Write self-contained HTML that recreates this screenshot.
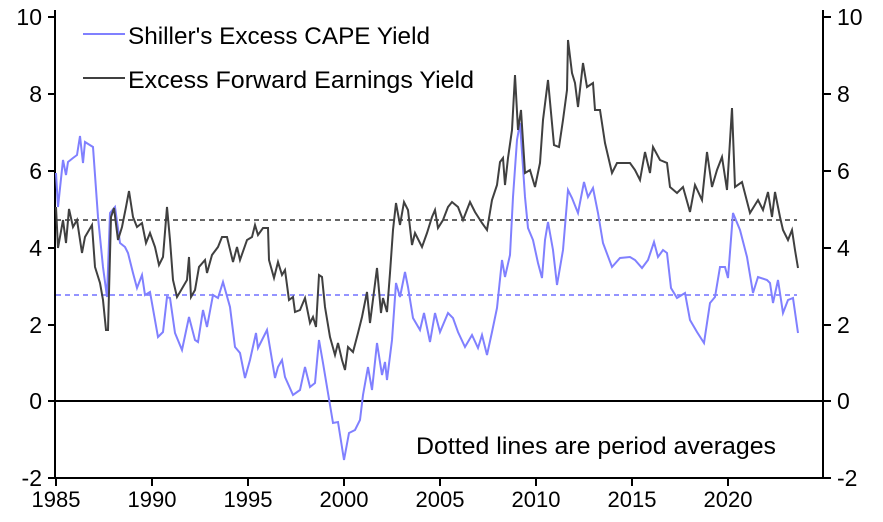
<!DOCTYPE html>
<html><head><meta charset="utf-8"><style>body{margin:0;background:#fff}svg{display:block}text{font-family:"Liberation Sans",Arial,sans-serif;fill:#000}</style></head><body>
<svg width="883" height="522" viewBox="0 0 883 522" xmlns="http://www.w3.org/2000/svg">
<g stroke="#000" stroke-width="2" fill="none">
<line x1="55" y1="10" x2="55" y2="479"/>
<line x1="823" y1="10" x2="823" y2="479"/>
<line x1="55" y1="478" x2="823" y2="478"/>
<line x1="55" y1="401" x2="823" y2="401"/>
<path d="M48 17H55M48 94H55M48 171H55M48 248H55M48 325H55M48 401H55M48 478H55"/>
<path d="M823 17H831M823 94H831M823 171H831M823 248H831M823 325H831M823 401H831M823 478H831"/>
<path d="M56 478V486M152 478V486M248 478V486M344 478V486M440 478V486M536 478V486M632 478V486M728 478V486"/>
</g>
<g font-size="23" text-anchor="end">
<text x="42" y="25">10</text><text x="42" y="102">8</text><text x="42" y="179">6</text><text x="42" y="256">4</text><text x="42" y="333">2</text><text x="42" y="409">0</text><text x="42" y="486">-2</text>
</g>
<g font-size="23">
<text x="837" y="25">10</text><text x="837" y="102">8</text><text x="837" y="179">6</text><text x="837" y="256">4</text><text x="837" y="333">2</text><text x="837" y="409">0</text><text x="837" y="486">-2</text>
</g>
<g font-size="22" text-anchor="middle">
<text x="56" y="507">1985</text><text x="152" y="507">1990</text><text x="248" y="507">1995</text><text x="344" y="507">2000</text><text x="440" y="507">2005</text><text x="536" y="507">2010</text><text x="632" y="507">2015</text><text x="728" y="507">2020</text>
</g>
<line x1="56" y1="220" x2="797" y2="220" stroke="#333" stroke-width="1.5" stroke-dasharray="5,4"/>
<line x1="56" y1="295" x2="797" y2="295" stroke="#7070ff" stroke-width="1.5" stroke-dasharray="5,4"/>
<polyline fill="none" stroke="#8080ff" stroke-width="2" points="56,173 58,207 63,160 66,175 68,162 73,158 77,155 80,136 83,163 85,142 93,147 98,217 103,267 107,297 110,213 115,207 120,243 125,247 128,253 133,273 137,288 142,275 145,295 150,292 158,337 163,332 167,297 170,298 175,333 182,350 189,317 195,340 198,342 203,310 207,327 213,295 218,298 223,282 230,307 235,347 240,353 245,378 250,360 256,333 258,348 267,330 275,378 278,367 282,360 285,377 293,395 300,390 305,367 310,387 315,383 319,340 323,363 328,393 333,423 338,422 344,460 349,433 355,430 360,420 363,395 368,367 372,390 377,343 382,375 385,362 387,380 392,340 396,283 400,297 405,272 408,287 413,318 420,330 424,313 430,342 435,313 440,332 448,313 453,318 458,332 465,347 472,335 478,348 482,335 487,355 492,332 497,308 502,260 505,277 510,255 513,197 517,140 520,123 525,197 528,228 533,240 538,263 542,278 545,240 548,222 553,250 557,285 563,250 568,190 572,198 578,213 584,182 588,197 593,188 598,213 603,243 612,267 620,258 630,257 635,260 642,268 648,260 654,242 658,257 663,250 667,253 671,288 677,298 685,293 690,320 697,332 704,343 710,303 715,297 720,267 725,267 728,278 733,213 740,230 747,257 753,293 758,277 767,280 770,283 773,303 778,280 783,313 788,300 793,298 798,333"/>
<polyline fill="none" stroke="#404040" stroke-width="2" points="56,207 58,248 63,220 66,243 69,209 73,227 77,220 82,253 85,237 92,225 95,267 100,283 103,300 106,330 108,330 111,217 114,208 118,240 122,227 126,207 129,191 133,217 137,227 142,223 146,243 150,233 155,247 159,265 163,257 167,207 170,240 173,280 177,297 180,292 187,280 189,257 191,297 195,290 199,267 205,260 207,273 212,255 218,247 222,237 227,237 233,262 237,247 240,260 247,240 252,237 255,225 258,235 263,228 268,228 269,260 274,278 278,262 282,275 285,270 289,300 293,297 295,312 300,310 305,298 310,323 313,317 316,327 319,275 322,277 325,307 330,337 335,355 338,343 342,360 345,370 348,347 353,352 358,333 362,317 367,292 370,323 377,268 381,313 383,298 387,312 390,273 393,230 396,203 400,225 404,202 408,210 412,245 415,233 422,247 427,233 432,217 435,210 438,228 443,220 448,207 452,202 458,207 463,220 470,202 475,212 482,223 487,230 492,200 497,185 500,162 503,158 505,185 508,158 512,130 515,75 518,130 521,110 525,173 530,170 535,187 540,163 543,120 548,80 554,145 559,147 563,120 567,90 568,40 572,73 575,83 578,107 583,63 587,87 593,83 595,110 600,110 605,143 612,173 617,163 623,163 630,163 635,170 640,180 645,152 650,173 653,147 660,160 667,163 670,187 677,193 683,187 690,212 695,185 702,200 707,152 712,187 717,170 722,157 727,190 732,108 735,187 742,182 750,213 758,200 763,210 768,192 772,217 775,192 780,217 783,230 788,240 792,230 795,250 798,268"/>
<line x1="83" y1="34" x2="125" y2="34" stroke="#8080ff" stroke-width="2"/>
<line x1="83" y1="78" x2="125" y2="78" stroke="#404040" stroke-width="2"/>
<text x="128" y="44" font-size="24" textLength="302" lengthAdjust="spacingAndGlyphs">Shiller's Excess CAPE Yield</text>
<text x="128" y="88" font-size="24" textLength="346" lengthAdjust="spacingAndGlyphs">Excess Forward Earnings Yield</text>
<text x="416" y="454" font-size="24" textLength="360" lengthAdjust="spacingAndGlyphs">Dotted lines are period averages</text>
</svg>
</body></html>
